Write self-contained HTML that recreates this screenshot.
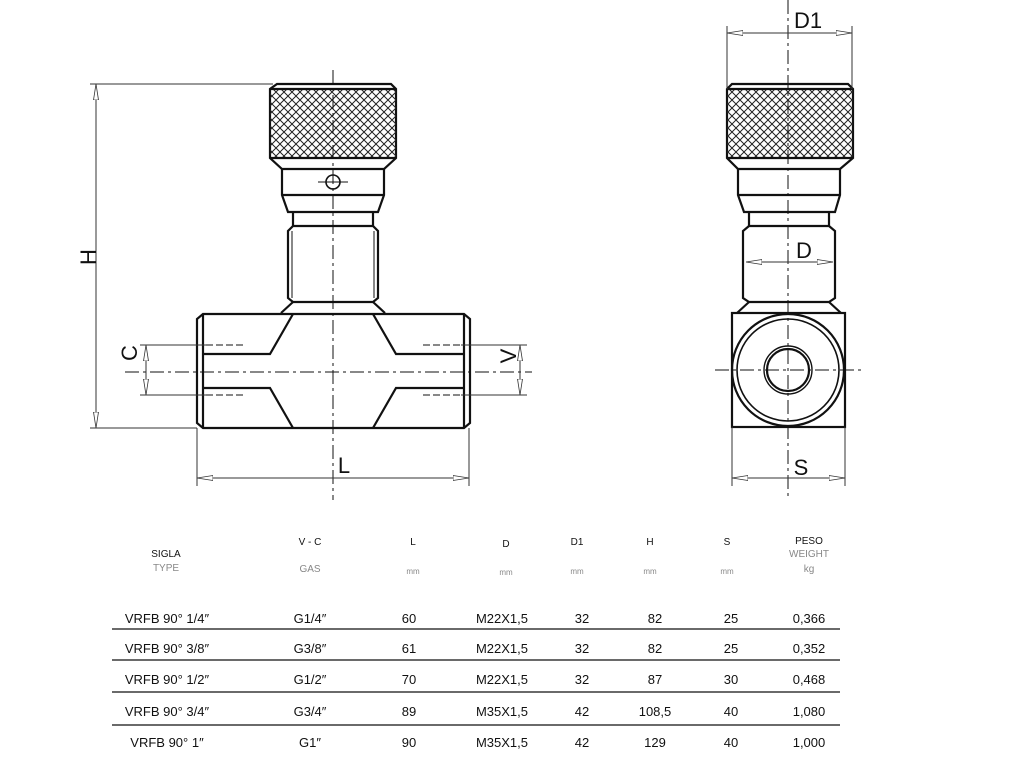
<!DOCTYPE html>
<html><head><meta charset="utf-8"><style>
html,body{margin:0;padding:0;background:#fff;}
svg{display:block;}
text{font-family:"Liberation Sans",sans-serif;}
</style></head><body>
<svg width="1024" height="774" viewBox="0 0 1024 774" xmlns="http://www.w3.org/2000/svg">
<defs>
<pattern id="kn" width="8" height="8" patternUnits="userSpaceOnUse">
<path d="M0 0L8 8M8 0L0 8" stroke="#222" stroke-width="1"/>
</pattern>
<marker id="ar" viewBox="0 0 16 6" refX="16" refY="3" markerWidth="16" markerHeight="6" orient="auto-start-reverse" markerUnits="userSpaceOnUse">
<path d="M0 0.5L16 3L0 5.5Z" fill="#fff" stroke="#333" stroke-width="0.8"/>
</marker>
</defs>
<rect width="1024" height="774" fill="#fff"/>

<!-- LEFT VIEW -->
<g stroke="#111" stroke-width="2.2" fill="none">
<!-- knob -->
<path d="M277 84 H391 L396 89 V158 L384 169 H282 L270 158 V89 Z" fill="#fff"/>
<rect x="270" y="89" width="126" height="69" fill="url(#kn)" stroke="none"/>
<line x1="270" y1="89" x2="396" y2="89"/><line x1="270" y1="158" x2="396" y2="158"/>
<!-- collar -->
<path d="M282 169 V195 L288 212 H378 L384 195 V169"/>
<line x1="282" y1="195" x2="384" y2="195"/>
<!-- neck -->
<path d="M293 212 V226 M373 212 V226"/>
<path d="M293 226 L288 231 V298 L293 302 H373 L378 298 V231 L373 226 Z"/>
<line x1="292" y1="231" x2="292" y2="298" stroke-width="1"/><line x1="374" y1="231" x2="374" y2="298" stroke-width="1"/>
<path d="M293 302 L281 313 M373 302 L385 313"/>
<!-- body -->
<path d="M203 314 H464 L470 319 V423 L464 428 H203 L197 423 V319 Z"/>
<line x1="203" y1="314" x2="203" y2="428"/><line x1="464" y1="314" x2="464" y2="428"/>
<path d="M203 354 H270 L293 314 M203 388 H270 L293 428"/>
<path d="M464 354 H396 L373 314 M464 388 H396 L373 428"/>
</g>
<!-- pin hole -->
<circle cx="333" cy="182" r="7" stroke="#111" stroke-width="1.6" fill="#fff"/>
<line x1="318" y1="182" x2="348" y2="182" stroke="#111" stroke-width="1"/>
<!-- thread dashes -->
<g stroke="#111" stroke-width="1" stroke-dasharray="7,3">
<line x1="206" y1="345" x2="244" y2="345"/><line x1="206" y1="395" x2="244" y2="395"/>
<line x1="423" y1="345" x2="461" y2="345"/><line x1="423" y1="395" x2="461" y2="395"/>
</g>
<!-- centerlines -->
<g stroke="#111" stroke-width="1" stroke-dasharray="14,4,3,4">
<line x1="333" y1="70" x2="333" y2="500"/>
<line x1="125" y1="372" x2="532" y2="372"/>
</g>
<!-- dims -->
<g stroke="#333" stroke-width="1" fill="none">
<line x1="90" y1="84" x2="273" y2="84"/><line x1="90" y1="428" x2="197" y2="428"/>
<line x1="96" y1="84" x2="96" y2="428" marker-start="url(#ar)" marker-end="url(#ar)"/>
<line x1="140" y1="345" x2="206" y2="345"/><line x1="140" y1="395" x2="206" y2="395"/>
<line x1="146" y1="345" x2="146" y2="372" marker-start="url(#ar)"/>
<line x1="146" y1="372" x2="146" y2="395" marker-end="url(#ar)"/>
<line x1="461" y1="345" x2="527" y2="345"/><line x1="461" y1="395" x2="527" y2="395"/>
<line x1="520" y1="345" x2="520" y2="372" marker-start="url(#ar)"/>
<line x1="520" y1="372" x2="520" y2="395" marker-end="url(#ar)"/>
<line x1="197" y1="428" x2="197" y2="486"/><line x1="469" y1="428" x2="469" y2="486"/>
<line x1="197" y1="478" x2="469" y2="478" marker-start="url(#ar)" marker-end="url(#ar)"/>
</g>
<g fill="#111" font-size="22">
<text x="0" y="0" transform="translate(96,257) rotate(-90)" text-anchor="middle">H</text>
<text x="0" y="0" transform="translate(137,353) rotate(-90)" text-anchor="middle">C</text>
<text x="0" y="0" transform="translate(516,356) rotate(-90)" text-anchor="middle">V</text>
<text x="344" y="473" text-anchor="middle">L</text>
</g>

<!-- RIGHT VIEW -->
<g stroke="#111" stroke-width="2.2" fill="none">
<path d="M732 84 H848 L853 89 V158 L840 169 H738 L727 158 V89 Z" fill="#fff"/>
<rect x="727" y="89" width="126" height="69" fill="url(#kn)" stroke="none"/>
<line x1="727" y1="89" x2="853" y2="89"/><line x1="727" y1="158" x2="853" y2="158"/>
<path d="M738 169 V195 L744 212 H835 L840 195 V169"/>
<line x1="738" y1="195" x2="840" y2="195"/>
<path d="M749 212 V226 M829 212 V226"/>
<path d="M749 226 L743 231 V298 L749 302 H829 L835 298 V231 L829 226 Z"/>
<path d="M749 302 L737 313 M829 302 L841 313"/>
<rect x="732" y="313" width="113" height="114"/>
<circle cx="788" cy="370" r="56"/>
<circle cx="788" cy="370" r="51" stroke-width="1.6"/>
<circle cx="788" cy="370" r="24" stroke-width="1.4"/>
<circle cx="788" cy="370" r="21"/>
</g>
<g stroke="#111" stroke-width="1" stroke-dasharray="14,4,3,4">
<line x1="788" y1="0" x2="788" y2="500"/>
<line x1="715" y1="370" x2="862" y2="370"/>
</g>
<g stroke="#333" stroke-width="1" fill="none">
<line x1="727" y1="26" x2="727" y2="89"/><line x1="852" y1="26" x2="852" y2="89"/>
<line x1="727" y1="33" x2="852" y2="33" marker-start="url(#ar)" marker-end="url(#ar)"/>
<line x1="746" y1="262" x2="833" y2="262" marker-start="url(#ar)" marker-end="url(#ar)"/>
<line x1="732" y1="427" x2="732" y2="486"/><line x1="845" y1="427" x2="845" y2="486"/>
<line x1="732" y1="478" x2="845" y2="478" marker-start="url(#ar)" marker-end="url(#ar)"/>
</g>
<g fill="#111" font-size="22">
<text x="808" y="28" text-anchor="middle">D1</text>
<text x="804" y="258" text-anchor="middle">D</text>
<text x="801" y="475" text-anchor="middle">S</text>
</g>

<!-- TABLE -->
<g font-size="10" fill="#111" text-anchor="middle">
<text x="166" y="557">SIGLA</text>
<text x="310" y="545">V - C</text>
<text x="413" y="545">L</text>
<text x="506" y="547">D</text>
<text x="577" y="545">D1</text>
<text x="650" y="545">H</text>
<text x="727" y="545">S</text>
<text x="809" y="544">PESO</text>
</g>
<g font-size="10" fill="#888" text-anchor="middle">
<text x="166" y="571">TYPE</text>
<text x="310" y="572">GAS</text>
<text x="809" y="557">WEIGHT</text>
<text x="809" y="572">kg</text>
</g>
<g font-size="8" fill="#888" text-anchor="middle">
<text x="413" y="574">mm</text><text x="506" y="575">mm</text><text x="577" y="574">mm</text>
<text x="650" y="574">mm</text><text x="727" y="574">mm</text>
</g>
<g font-size="13" fill="#111" text-anchor="middle">
<text x="167" y="623">VRFB 90° 1/4″</text><text x="310" y="623">G1/4″</text><text x="409" y="623">60</text><text x="502" y="623">M22X1,5</text><text x="582" y="623">32</text><text x="655" y="623">82</text><text x="731" y="623">25</text><text x="809" y="623">0,366</text>
<text x="167" y="653">VRFB 90° 3/8″</text><text x="310" y="653">G3/8″</text><text x="409" y="653">61</text><text x="502" y="653">M22X1,5</text><text x="582" y="653">32</text><text x="655" y="653">82</text><text x="731" y="653">25</text><text x="809" y="653">0,352</text>
<text x="167" y="684">VRFB 90° 1/2″</text><text x="310" y="684">G1/2″</text><text x="409" y="684">70</text><text x="502" y="684">M22X1,5</text><text x="582" y="684">32</text><text x="655" y="684">87</text><text x="731" y="684">30</text><text x="809" y="684">0,468</text>
<text x="167" y="716">VRFB 90° 3/4″</text><text x="310" y="716">G3/4″</text><text x="409" y="716">89</text><text x="502" y="716">M35X1,5</text><text x="582" y="716">42</text><text x="655" y="716">108,5</text><text x="731" y="716">40</text><text x="809" y="716">1,080</text>
<text x="167" y="747">VRFB 90° 1″</text><text x="310" y="747">G1″</text><text x="409" y="747">90</text><text x="502" y="747">M35X1,5</text><text x="582" y="747">42</text><text x="655" y="747">129</text><text x="731" y="747">40</text><text x="809" y="747">1,000</text>
</g>
<g stroke="#111" stroke-width="1.2">
<line x1="112" y1="629" x2="840" y2="629"/>
<line x1="112" y1="660" x2="840" y2="660"/>
<line x1="112" y1="692" x2="840" y2="692"/>
<line x1="112" y1="725" x2="840" y2="725"/>
</g>
</svg>
</body></html>
